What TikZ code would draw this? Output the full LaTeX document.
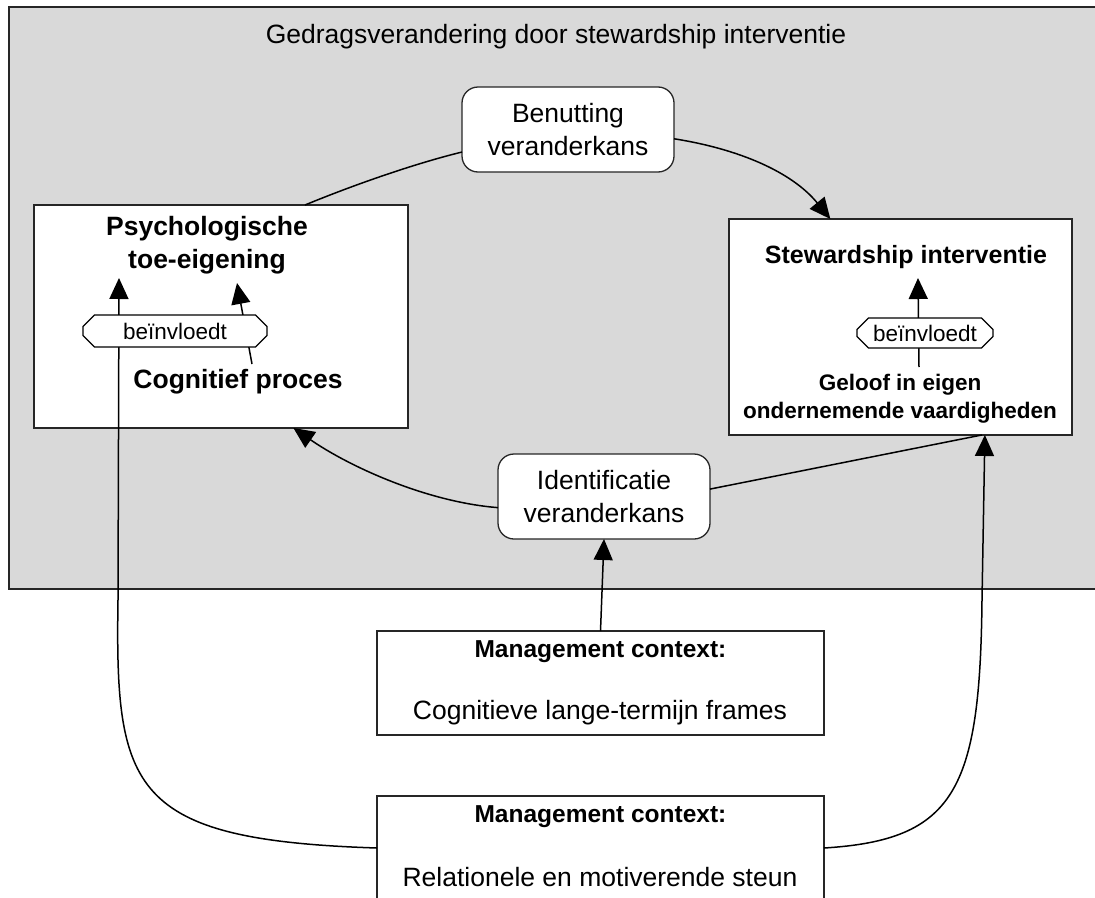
\documentclass[tikz,border=0pt]{standalone}
\usepackage{fontspec}
\setmainfont{Liberation Sans}
\usetikzlibrary{arrows.meta,shapes.misc}
\definecolor{bggray}{RGB}{217,217,217}
\begin{document}
\begin{tikzpicture}[x=1pt,y=-1pt,
  every node/.style={inner sep=0pt, outer sep=0pt},
  conn/.style={line width=1.5pt, black},
  arr/.style={conn, -{Triangle[length=21pt,width=19pt]}},
  whitebox/.style={draw=black!85, line width=1.3pt, fill=white},
  roundbox/.style={whitebox, rounded corners=16pt},
  tag/.style={draw=black, line width=1.2pt, fill=white, chamfered rectangle,
    chamfered rectangle xsep=8pt, font=\fontsize{22.5}{26}\selectfont},
  txt/.style={font=\fontsize{26.5}{33}\selectfont, align=center},
  btxt/.style={font=\bfseries\fontsize{26.5}{33}\selectfont, align=center},
]
\useasboundingbox (0,0) rectangle (1095,897);
\clip (0,0) rectangle (1095,897);
\fill[white] (0,0) rectangle (1095,897);
\draw[fill=bggray, line width=1.3pt, draw=black!85] (9,7) rectangle (1120,589);

\node[txt] (title) at (556,37) {Gedragsverandering door stewardship interventie};

\node[roundbox, minimum width=212pt, minimum height=85pt, txt] (ben) at (568,129.5) {Benutting\\veranderkans};

\node[whitebox, minimum width=374pt, minimum height=223pt] (psybox) at (221,316.5) {};
\node[btxt] (psy) at (207,245) {Psychologische\\toe-eigening};
\node[btxt] (cog) at (238,382) {Cognitief proces};

\node[whitebox, minimum width=343pt, minimum height=216pt] (rbox) at (900.5,327) {};
\node[font=\bfseries\fontsize{25}{30}\selectfont] (stew) at (906,257) {Stewardship interventie};
\node[font=\bfseries\fontsize{22.5}{28}\selectfont, align=center] (gel) at (900,399) {Geloof in eigen\\ondernemende vaardigheden};

\node[roundbox, minimum width=212pt, minimum height=85pt, txt] (idt) at (604,496.5) {Identificatie\\veranderkans};

\node[whitebox, minimum width=447pt, minimum height=104pt] (m1) at (600.5,683) {};
\node[font=\bfseries\fontsize{24.5}{29}\selectfont] (m1a) at (600.5,652) {Management context:};
\node[txt] (m1b) at (600,713) {Cognitieve lange-termijn frames};

\node[whitebox, minimum width=447pt, minimum height=104pt] (m2) at (600.5,848) {};
\node[font=\bfseries\fontsize{24.5}{29}\selectfont] (m2a) at (600.5,817) {Management context:};
\node[txt] (m2b) at (600,877) {Relationele en motiverende steun};

\coordinate (tipA) at (119,278);
\coordinate (tipB) at (237,283);
\coordinate (tipS) at (918,278);
\coordinate (gtop) at (919,367);
\coordinate (cogtop) at (252,364);

% cycle
\draw[conn] (ben.192) .. controls (413,164) and (351,186) .. (psybox.53);
\draw[arr] (ben.-5) .. controls (739,149) and (792,172) .. (rbox.123);
\draw[conn] (idt.4) -- (rbox.-53);
\draw[arr] (idt.186) .. controls (427,502) and (350,467) .. (psybox.-57.5);
\draw[arr] (m1.north) -- (idt.south);

% influences
\draw[arr] (cogtop) -- (tipB);
\draw[arr] (m2.west) .. controls (130,840) and (115,790) .. (118,600) -- (tipA);
\draw[arr] (m2.east) .. controls (955,840) and (980,790) .. (982,600) -- (rbox.-52.6);
\draw[arr] (gtop) -- (tipS);

\node[tag, minimum width=184pt, minimum height=32pt] (inf1) at (175,331) {beïnvloedt};
\node[tag, minimum width=136pt, minimum height=30pt] (inf2) at (925,333) {beïnvloedt};
\end{tikzpicture}
\end{document}
